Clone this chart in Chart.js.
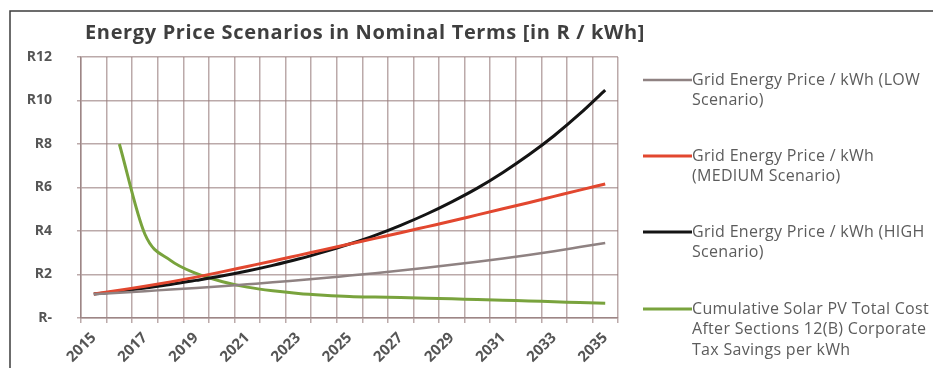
<!DOCTYPE html>
<html>
<head>
<meta charset="utf-8">
<script src="https://cdn.jsdelivr.net/npm/chart.js@4"></script>
<style>
  html, body { margin: 0; padding: 0; background: #ffffff; }
  #wrap { position: absolute; left: 0; top: 0; width: 933px; height: 368px; }
</style>
</head>
<body>
<div id="wrap"><canvas id="c"></canvas></div>
<script>
// ---- data ----
const years = ['2015','2016','2017','2018','2019','2020','2021','2022','2023','2024','2025',
               '2026','2027','2028','2029','2030','2031','2032','2033','2034','2035'];
const lowScenario    = [1.10,1.16,1.23,1.31,1.38,1.46,1.55,1.64,1.74,1.84,1.95,
                        2.06,2.18,2.31,2.45,2.59,2.74,2.90,3.07,3.26,3.45];
const mediumScenario = [1.10,1.28,1.46,1.66,1.88,2.12,2.37,2.62,2.88,3.14,3.40,
                        3.66,3.92,4.19,4.46,4.74,5.02,5.30,5.59,5.88,6.16];
const highScenario   = [1.10,1.23,1.38,1.54,1.73,1.93,2.16,2.42,2.71,3.04,3.40,
                        3.80,4.26,4.77,5.34,5.97,6.69,7.49,8.38,9.38,10.48];
const solarPV        = [null,8.00,3.85,2.65,2.05,1.68,1.42,1.25,1.13,1.05,0.99,
                        0.96,0.94,0.91,0.88,0.85,0.82,0.78,0.75,0.71,0.68];
const seriesNames = [
  ['Grid Energy Price / kWh (LOW', 'Scenario)'],
  ['Grid Energy Price / kWh', '(MEDIUM Scenario)'],
  ['Grid Energy Price / kWh (HIGH', 'Scenario)'],
  ['Cumulative Solar PV Total Cost', 'After Sections 12(B) Corporate', 'Tax Savings per kWh']
];
const chartTitle = 'Energy Price Scenarios in Nominal Terms [in R / kWh]';
const yTickValues = [0, 2, 4, 6, 8, 10, 12];

const colors = ['#8f8282', '#e2472f', '#141414', '#79a33d'];
const widths = [2.5, 3, 3, 3];
const seriesData = [lowScenario, mediumScenario, highScenario, solarPV];

const FONT = '"Open Sans", "DejaVu Sans", sans-serif';

const decorPlugin = {
  id: 'decor',
  beforeDraw(chart) {
    const ctx = chart.ctx;
    ctx.save();
    ctx.fillStyle = '#ffffff';
    ctx.fillRect(0, 0, chart.width, chart.height);
    ctx.strokeStyle = '#3c3c3c';
    ctx.lineWidth = 1.5;
    ctx.strokeRect(10, 11, 2000, 2000);
    ctx.restore();
  },
  afterDraw(chart) {
    const ctx = chart.ctx;
    ctx.save();
    // title
    ctx.font = 'bold 20px ' + FONT;
    if ('letterSpacing' in ctx) ctx.letterSpacing = '0.65px';
    ctx.fillStyle = '#3f3f3f';
    ctx.textBaseline = 'alphabetic';
    ctx.textAlign = 'left';
    ctx.fillText(chartTitle, 85, 39);
    // legend
    if ('letterSpacing' in ctx) ctx.letterSpacing = '0.3px';
    const rowsY = [80, 156, 232, 309];
    chart.data.datasets.forEach((ds, i) => {
      const y = rowsY[i];
      ctx.strokeStyle = ds.borderColor;
      ctx.lineWidth = ds.borderWidth;
      ctx.beginPath();
      ctx.moveTo(643, y);
      ctx.lineTo(692, y);
      ctx.stroke();
      ctx.font = '16px ' + FONT;
      ctx.fillStyle = '#5c5c5c';
      ctx.textBaseline = 'middle';
      seriesNames[i].forEach((line, j) => {
        ctx.fillText(line, 692, y + j * 20.5);
      });
    });
    ctx.restore();
  }
};

new Chart(document.getElementById('c'), {
  type: 'line',
  data: {
    labels: years,
    datasets: seriesData.map((d, i) => ({
      label: seriesNames[i].join(' '),
      data: d,
      borderColor: colors[i],
      backgroundColor: colors[i],
      borderWidth: widths[i],
      pointRadius: 0,
      fill: false,
      tension: 0.4,
      cubicInterpolationMode: 'monotone'
    }))
  },
  options: {
    responsive: true,
    maintainAspectRatio: false,
    animation: false,
    devicePixelRatio: 1,
    layout: { padding: { left: 0, top: 57, right: 315, bottom: 0 } },
    plugins: {
      legend: { display: false },
      title: { display: false },
      tooltip: { enabled: false }
    },
    scales: {
      x: {
        type: 'category',
        offset: true,
        grid: { offset: true, color: 'rgba(150,125,125,0.65)', lineWidth: 1.5, tickLength: 5 },
        border: { color: 'rgba(150,125,125,0.8)', width: 1.5 },
        afterFit(s) { s.height = 50; },
        ticks: {
          autoSkip: false,
          minRotation: 45,
          maxRotation: 45,
          padding: 6,
          color: '#555555',
          font: { family: FONT, size: 15, weight: 'bold' },
          callback: (v, i) => (i % 2 === 0 ? years[i] : '')
        }
      },
      y: {
        min: 0,
        max: 12,
        afterFit(s) { s.width = 81; },
        afterBuildTicks(s) { s.ticks = yTickValues.map(v => ({ value: v })); },
        grid: { color: 'rgba(150,125,125,0.65)', lineWidth: 1.5, tickLength: 4 },
        border: { color: 'rgba(150,125,125,0.8)', width: 1.5 },
        ticks: {
          padding: 25,
          color: '#555555',
          font: { family: FONT, size: 14, weight: 'bold' },
          callback: v => (v === 0 ? 'R-' : 'R' + v)
        }
      }
    }
  },
  plugins: [decorPlugin]
});
</script>
</body>
</html>
